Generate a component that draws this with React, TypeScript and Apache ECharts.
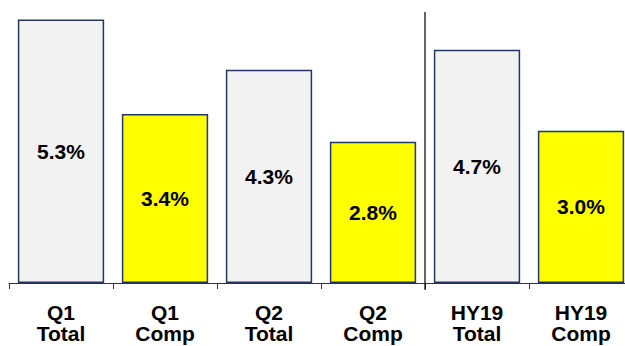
import React, { useEffect, useRef } from "react";
import * as echarts from "echarts";

const categories = ["Q1\nTotal", "Q1\nComp", "Q2\nTotal", "Q2\nComp", "HY19\nTotal", "HY19\nComp"];
const values = [5.3, 3.4, 4.29, 2.84, 4.69, 3.06];
const valueLabels = ["5.3%", "3.4%", "4.3%", "2.8%", "4.7%", "3.0%"];
const fills = ["#F2F2F2", "#FFFF00", "#F2F2F2", "#FFFF00", "#F2F2F2", "#FFFF00"];
const separatorAfterIndex = 3;
const separatorTopValue = 5.45;

const FONT = "'Liberation Sans', Arial, sans-serif";

export default function App() {
  const ref = useRef<HTMLDivElement>(null);
  useEffect(() => {
    if (!ref.current) return;
    const chart = echarts.init(ref.current, null, { renderer: "svg" });
    chart.setOption({
      animation: false,
      grid: { left: 9, top: 9.5, width: 624, height: 273.5, outerBoundsMode: "none", containLabel: false },
      xAxis: {
        type: "category",
        data: categories,
        axisLine: { show: true, lineStyle: { color: "#333", width: 1 } },
        axisTick: { show: true, length: 6, lineStyle: { color: "#333" } },
        axisLabel: {
          interval: 0,
          margin: 19,
          color: "#000",
          fontFamily: FONT,
          fontWeight: "bold",
          fontSize: 21,
          lineHeight: 21,
        },
      },
      yAxis: { type: "value", min: 0, max: 5.5, show: false, splitLine: { show: false } },
      series: [
        {
          type: "bar",
          barWidth: "83%",
          data: values.map((v, i) => ({
            value: v,
            itemStyle: { color: fills[i], borderColor: "#1F3864", borderWidth: 1.5 },
            label: {
              show: true,
              position: "inside",
              formatter: valueLabels[i],
              color: "#000",
              fontFamily: FONT,
              fontWeight: "bold",
              fontSize: 21,
            },
          })),
        },
      ],
    });
    const xa = chart.convertToPixel({ xAxisIndex: 0 }, separatorAfterIndex) as number;
    const xb = chart.convertToPixel({ xAxisIndex: 0 }, separatorAfterIndex + 1) as number;
    const x = (xa + xb) / 2;
    const yTop = chart.convertToPixel({ yAxisIndex: 0 }, separatorTopValue) as number;
    const yBase = chart.convertToPixel({ yAxisIndex: 0 }, 0) as number;
    chart.setOption({
      graphic: [
        {
          type: "line",
          shape: { x1: x, y1: yTop, x2: x, y2: yBase + 7 },
          style: { stroke: "#000", lineWidth: 1.2 },
          z: 10,
        },
      ],
    });
    return () => chart.dispose();
  }, []);
  return (
    <div
      ref={ref}
      style={{ position: "fixed", left: 0, top: 0, width: 625, height: 346, background: "#fff" }}
    />
  );
}
